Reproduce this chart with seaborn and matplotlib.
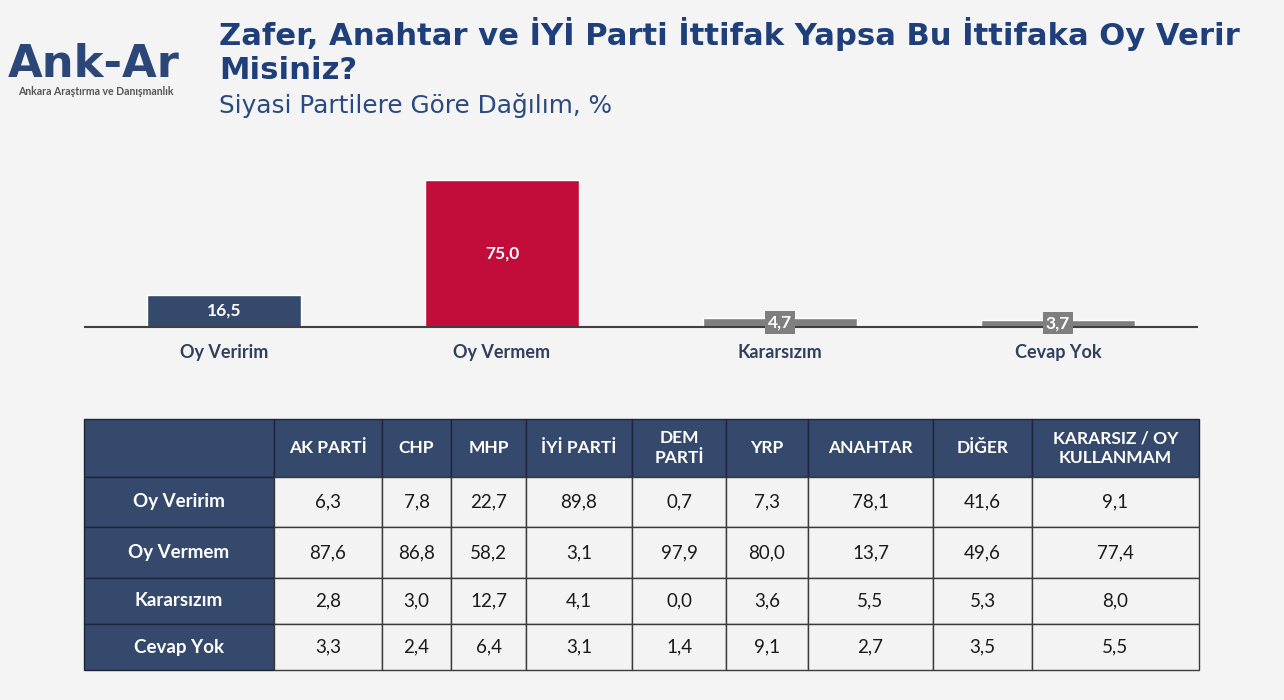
import matplotlib
matplotlib.use("Agg")
import matplotlib.pyplot as plt
import seaborn as sns
import pandas as pd

# overall answer shares (%)
answers = ["Oy Veririm", "Oy Vermem", "Kararsızım", "Cevap Yok"]
overall = [16.5, 75.0, 4.7, 3.7]
bar_colors = ["#34496b", "#c20d3a", "#7f7f7f", "#7f7f7f"]

# breakdown by party (%)
parties = ["AK PARTİ", "CHP", "MHP", "İYİ PARTİ", "DEM\nPARTİ", "YRP",
           "ANAHTAR", "DİĞER", "KARARSIZ / OY\nKULLANMAM"]
oy_veririm = [6.3, 7.8, 22.7, 89.8, 0.7, 7.3, 78.1, 41.6, 9.1]
oy_vermem = [87.6, 86.8, 58.2, 3.1, 97.9, 80.0, 13.7, 49.6, 77.4]
kararsizim = [2.8, 3.0, 12.7, 4.1, 0.0, 3.6, 5.5, 5.3, 8.0]
cevap_yok = [3.3, 2.4, 6.4, 3.1, 1.4, 9.1, 2.7, 3.5, 5.5]

title = "Zafer, Anahtar ve İYİ Parti İttifak Yapsa Bu İttifaka Oy Verir\nMisiniz?"
subtitle = "Siyasi Partilere Göre Dağılım, %"

NAVY = "#34496b"
TITLE_BLUE = "#1f3f7a"
BG = "#f4f4f4"


def tr(v):
    return f"{v:.1f}".replace(".", ",")


sns.set_theme(style="white")
plt.rcParams["font.family"] = ["Lato", "DejaVu Sans"]

W, H = 1284, 700
fig = plt.figure(figsize=(W / 100, H / 100), dpi=100, facecolor=BG)


def px_axes(x0, y0, x1, y1):
    # box given in pixels from the top-left corner
    return fig.add_axes([x0 / W, 1 - y1 / H, (x1 - x0) / W, (y1 - y0) / H])


def fit_text(t, width_px):
    r = fig.canvas.get_renderer()
    w = t.get_window_extent(renderer=r).width
    t.set_fontsize(t.get_fontsize() * width_px / w)


# --- header: logo + titles ---
logo = fig.text(8 / W, 1 - 77 / H, "Ank-Ar", color="#2a4778", fontsize=30,
                fontweight="bold", family=["DejaVu Sans"], va="baseline")
fit_text(logo, 172)
sub_logo = fig.text(18 / W, 1 - 95 / H, "Ankara Araştırma ve Danışmanlık",
                    color="#555555", fontsize=7, fontweight="bold", va="baseline")
fit_text(sub_logo, 157)

t1 = fig.text(219 / W, 1 - 45 / H, title.split("\n")[0], color=TITLE_BLUE,
              fontsize=22, fontweight="bold", family=["DejaVu Sans"], va="baseline")
fit_text(t1, 1019)
fig.text(219 / W, 1 - 79 / H, title.split("\n")[1], color=TITLE_BLUE,
         fontsize=t1.get_fontsize(), fontweight="bold", family=["DejaVu Sans"], va="baseline")
st = fig.text(219 / W, 1 - 113 / H, subtitle, color="#2a4a80", fontsize=18,
              family=["DejaVu Sans"], va="baseline")
fit_text(st, 392)

# --- bar chart ---
ax = px_axes(85, 170, 1197, 327)
ax.set_facecolor("none")
df = pd.DataFrame({"answer": answers, "pct": overall})
sns.barplot(data=df, x="answer", y="pct", hue="answer", palette=bar_colors,
            width=0.554, saturation=1, legend=False, ax=ax)
ax.set_ylim(0, 80)
ax.set_xlim(-0.5, len(answers) - 0.5)
for i, (v, c) in enumerate(zip(overall, bar_colors)):
    ax.text(i, v / 2, tr(v), ha="center", va="center", color="white",
            fontsize=12.5, fontweight="bold",
            bbox=dict(boxstyle="square,pad=0.18", fc=c, ec="none"))
for s in ["top", "left", "right"]:
    ax.spines[s].set_visible(False)
ax.spines["bottom"].set_color("#404040")
ax.spines["bottom"].set_linewidth(1.5)
ax.set_yticks([])
ax.set_xlabel("")
ax.set_ylabel("")
ax.tick_params(axis="x", length=0, pad=12)
for lab in ax.get_xticklabels():
    lab.set_fontweight("bold")
    lab.set_fontsize(13)
    lab.set_color("#2f3f5c")

# --- table ---
tax = px_axes(84, 419, 1199, 670)
tax.axis("off")
col_edges = [84, 274, 382, 451, 526, 632, 726, 808, 933, 1032, 1199]
row_edges = [419, 477, 527, 578, 624, 670]
col_w = [b - a for a, b in zip(col_edges[:-1], col_edges[1:])]
row_h = [b - a for a, b in zip(row_edges[:-1], row_edges[1:])]

rows = [oy_veririm, oy_vermem, kararsizim, cevap_yok]
cell_text = [[""] + parties] + [[a] + [tr(v) for v in r] for a, r in zip(answers, rows)]
tbl = tax.table(cellText=cell_text, colWidths=[w / sum(col_w) for w in col_w],
                cellLoc="center", bbox=[0, 0, 1, 1])
tbl.auto_set_font_size(False)
tbl.set_fontsize(12.5)
for (r, c), cell in tbl.get_celld().items():
    cell.set_height(row_h[r] / sum(row_h))
    cell.set_linewidth(1.0)
    txt = cell.get_text()
    if r == 0 or c == 0:
        cell.set_facecolor(NAVY)
        cell.set_edgecolor("#1c2638")
        txt.set_color("white")
        txt.set_fontweight("bold")
        txt.set_linespacing(1.3)
        if c == 0:
            txt.set_fontsize(13.5)
    else:
        cell.set_facecolor("#f3f3f3")
        cell.set_edgecolor("#3a3a3a")
        txt.set_color("#1a1a1a")
        txt.set_fontsize(13.5)

fig.savefig("out.png", dpi=100, facecolor=BG)
